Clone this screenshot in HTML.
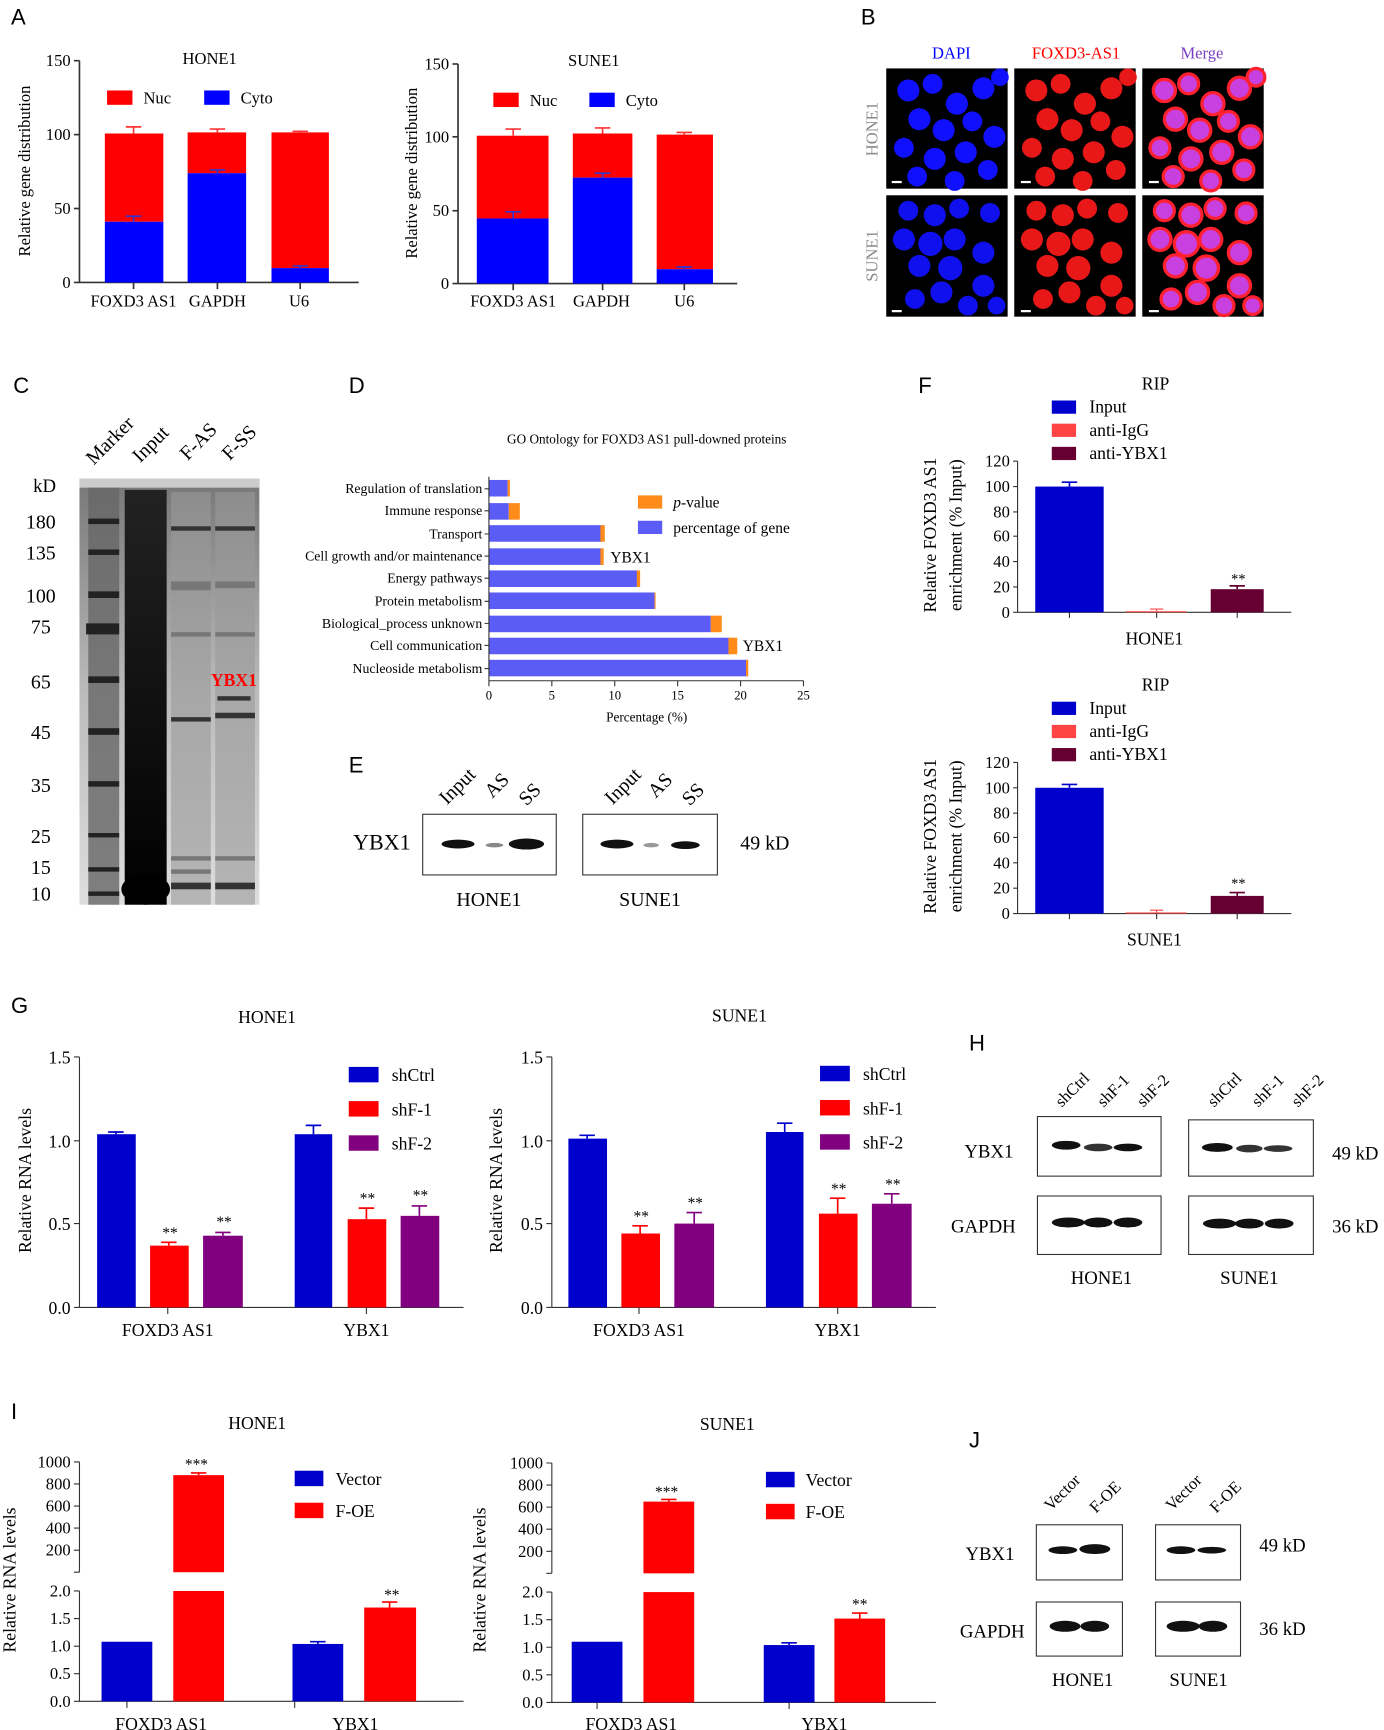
<!DOCTYPE html>
<html><head><meta charset="utf-8"><style>html,body{margin:0;padding:0;background:#fff}svg{display:block}
text{font-family:"Liberation Serif",serif}</style></head><body>
<svg width="1384" height="1730" viewBox="0 0 1254 1568" preserveAspectRatio="none" xmlns="http://www.w3.org/2000/svg">
<defs>
<linearGradient id="gel" x1="0" y1="0" x2="0" y2="1"><stop offset="0" stop-color="#777"/><stop offset="0.5" stop-color="#bbb"/><stop offset="1" stop-color="#ddd"/></linearGradient>
<linearGradient id="inp" x1="0" y1="0" x2="0" y2="1"><stop offset="0" stop-color="#222"/><stop offset="1" stop-color="#000"/></linearGradient>
<g id="c1"><circle cx="20" cy="20" r="10"/><circle cx="42" cy="14" r="9"/><circle cx="64" cy="32" r="10"/><circle cx="88" cy="18" r="10"/><circle cx="103" cy="8" r="8"/><circle cx="30" cy="46" r="10"/><circle cx="52" cy="56" r="10"/><circle cx="78" cy="48" r="9"/><circle cx="98" cy="62" r="10"/><circle cx="16" cy="72" r="9"/><circle cx="44" cy="82" r="10"/><circle cx="72" cy="76" r="10"/><circle cx="92" cy="92" r="9"/><circle cx="28" cy="98" r="9"/><circle cx="62" cy="102" r="9"/></g>
<g id="c2"><circle cx="20" cy="14" r="9"/><circle cx="44" cy="18" r="10"/><circle cx="66" cy="12" r="9"/><circle cx="94" cy="16" r="9"/><circle cx="16" cy="40" r="10"/><circle cx="40" cy="44" r="11"/><circle cx="62" cy="40" r="10"/><circle cx="30" cy="64" r="10"/><circle cx="58" cy="66" r="11"/><circle cx="88" cy="52" r="10"/><circle cx="50" cy="88" r="10"/><circle cx="88" cy="82" r="10"/><circle cx="26" cy="94" r="9"/><circle cx="74" cy="100" r="9"/><circle cx="100" cy="100" r="8"/></g>
</defs>
<g font-family="Liberation Sans,sans-serif" font-size="20" fill="#000">
<text x="10" y="22" style="font-family:'Liberation Sans',sans-serif">A</text>
<text x="780" y="22" style="font-family:'Liberation Sans',sans-serif">B</text>
<text x="12" y="356" style="font-family:'Liberation Sans',sans-serif">C</text>
<text x="316" y="356" style="font-family:'Liberation Sans',sans-serif">D</text>
<text x="316" y="700" style="font-family:'Liberation Sans',sans-serif">E</text>
<text x="832" y="356" style="font-family:'Liberation Sans',sans-serif">F</text>
<text x="10" y="918" style="font-family:'Liberation Sans',sans-serif">G</text>
<text x="878" y="952" style="font-family:'Liberation Sans',sans-serif">H</text>
<text x="10" y="1286" style="font-family:'Liberation Sans',sans-serif">I</text>
<text x="878" y="1312" style="font-family:'Liberation Sans',sans-serif">J</text>
</g>

<!-- Panel A HONE1 -->
<g font-size="15" stroke-width="1.5">
<text x="190" y="58" text-anchor="middle">HONE1</text>
<line x1="72" y1="55" x2="72" y2="256" stroke="#333"/>
<line x1="72" y1="256" x2="325" y2="256" stroke="#333"/>
<g stroke="#333"><line x1="67" y1="55" x2="72" y2="55"/><line x1="67" y1="122" x2="72" y2="122"/><line x1="67" y1="189" x2="72" y2="189"/><line x1="67" y1="256" x2="72" y2="256"/>
<line x1="121" y1="256" x2="121" y2="262"/><line x1="197" y1="256" x2="197" y2="262"/><line x1="272" y1="256" x2="272" y2="262"/></g>
<g text-anchor="end"><text x="64" y="60">150</text><text x="64" y="127">100</text><text x="64" y="194">50</text><text x="64" y="261">0</text></g>
<text transform="translate(27,155) rotate(-90)" text-anchor="middle">Relative gene distribution</text>
<rect x="95" y="121" width="53" height="80" fill="#f00"/><rect x="95" y="201" width="53" height="55" fill="#00f"/>
<rect x="170" y="120" width="53" height="37" fill="#f00"/><rect x="170" y="157" width="53" height="99" fill="#00f"/>
<rect x="246" y="120" width="52" height="123" fill="#f00"/><rect x="246" y="243" width="52" height="13" fill="#00f"/>
<g stroke="#f33"><path d="M121 121V115M114 115H128M197 120V117M190 117H204M272 120V119M265 119H279"/></g>
<g stroke="#33c"><path d="M121 201V196M114 196H128M197 157V154M190 154H204M272 243V241M265 241H279"/></g>
<rect x="97" y="82" width="23" height="13" fill="#f00"/><text x="130" y="94">Nuc</text>
<rect x="185" y="82" width="23" height="13" fill="#00f"/><text x="218" y="94">Cyto</text>
<text x="121" y="278" text-anchor="middle">FOXD3 AS1</text><text x="197" y="278" text-anchor="middle">GAPDH</text><text x="271" y="278" text-anchor="middle">U6</text>
</g>
<!-- Panel A SUNE1 -->
<g font-size="15" stroke-width="1.5">
<text x="538" y="60" text-anchor="middle">SUNE1</text>
<line x1="415" y1="58" x2="415" y2="257" stroke="#333"/>
<line x1="415" y1="257" x2="668" y2="257" stroke="#333"/>
<g stroke="#333"><line x1="410" y1="58" x2="415" y2="58"/><line x1="410" y1="124" x2="415" y2="124"/><line x1="410" y1="191" x2="415" y2="191"/><line x1="410" y1="257" x2="415" y2="257"/>
<line x1="465" y1="257" x2="465" y2="263"/><line x1="546" y1="257" x2="546" y2="263"/><line x1="620" y1="257" x2="620" y2="263"/></g>
<g text-anchor="end"><text x="407" y="63">150</text><text x="407" y="129">100</text><text x="407" y="196">50</text><text x="407" y="262">0</text></g>
<text transform="translate(378,157) rotate(-90)" text-anchor="middle">Relative gene distribution</text>
<rect x="432" y="123" width="65" height="75" fill="#f00"/><rect x="432" y="198" width="65" height="59" fill="#00f"/>
<rect x="519" y="121" width="54" height="40" fill="#f00"/><rect x="519" y="161" width="54" height="96" fill="#00f"/>
<rect x="595" y="122" width="51" height="122" fill="#f00"/><rect x="595" y="244" width="51" height="13" fill="#00f"/>
<g stroke="#f33"><path d="M465 123V117M458 117H472M546 121V116M539 116H553M620 122V120M613 120H627"/></g>
<g stroke="#33c"><path d="M465 198V192M458 192H472M546 161V157M539 157H553M620 244V242M613 242H627"/></g>
<rect x="447" y="84" width="23" height="13" fill="#f00"/><text x="480" y="96">Nuc</text>
<rect x="534" y="84" width="23" height="13" fill="#00f"/><text x="567" y="96">Cyto</text>
<text x="465" y="278" text-anchor="middle">FOXD3 AS1</text><text x="545" y="278" text-anchor="middle">GAPDH</text><text x="620" y="278" text-anchor="middle">U6</text>
</g>

<!-- Panel B -->
<g font-size="15">
<text x="862" y="53" text-anchor="middle" fill="#00f">DAPI</text>
<text x="975" y="53" text-anchor="middle" fill="#f00">FOXD3-AS1</text>
<text x="1089" y="53" text-anchor="middle" fill="#7a3fc0">Merge</text>
<text transform="translate(795,117) rotate(-90)" text-anchor="middle" fill="#888">HONE1</text>
<text transform="translate(795,232) rotate(-90)" text-anchor="middle" fill="#888">SUNE1</text>
<rect x="803" y="62" width="110" height="109" fill="#000"/><rect x="919" y="62" width="110" height="109" fill="#000"/><rect x="1035" y="62" width="110" height="109" fill="#000"/>
<rect x="803" y="177" width="110" height="110" fill="#000"/><rect x="919" y="177" width="110" height="110" fill="#000"/><rect x="1035" y="177" width="110" height="110" fill="#000"/>
<use href="#c1" x="803" y="62" fill="#1010ff"/>
<use href="#c1" x="919" y="62" fill="#e81818"/>
<use href="#c1" x="1035" y="62" fill="#c840e0" stroke="#ff2030" stroke-width="3"/>
<use href="#c2" x="803" y="177" fill="#1010ee"/>
<use href="#c2" x="919" y="177" fill="#e81818"/>
<use href="#c2" x="1035" y="177" fill="#c840e0" stroke="#ff2030" stroke-width="3"/>
<g fill="#fff"><rect x="808" y="164" width="9" height="2"/><rect x="925" y="164" width="9" height="2"/><rect x="1041" y="164" width="9" height="2"/><rect x="808" y="281" width="9" height="2"/><rect x="925" y="281" width="9" height="2"/><rect x="1041" y="281" width="9" height="2"/></g>
</g>

<!-- Panel C -->
<g font-size="18">
<text transform="translate(85,422) rotate(-45)">Marker</text>
<text transform="translate(127,420) rotate(-45)">Input</text>
<text transform="translate(170,418) rotate(-45)">F-AS</text>
<text transform="translate(208,418) rotate(-45)">F-SS</text>
<text x="30" y="446" font-size="17">kD</text>
<g text-anchor="middle"><text x="37" y="479">180</text><text x="37" y="507">135</text><text x="37" y="546">100</text><text x="37" y="574">75</text><text x="37" y="624">65</text><text x="37" y="670">45</text><text x="37" y="718">35</text><text x="37" y="764">25</text><text x="37" y="792">15</text><text x="37" y="816">10</text></g>
<rect x="72" y="434" width="163" height="386" fill="url(#gel)"/>
<rect x="72" y="434" width="163" height="8" fill="#ccc"/>
<rect x="80" y="442" width="28" height="378" fill="#666" opacity="0.8"/>
<g fill="#222"><rect x="80" y="470" width="28" height="5"/><rect x="80" y="498" width="28" height="5"/><rect x="80" y="536" width="28" height="6"/><rect x="78" y="565" width="30" height="10"/><rect x="80" y="613" width="28" height="6"/><rect x="80" y="660" width="28" height="6"/><rect x="80" y="708" width="28" height="5"/><rect x="80" y="755" width="28" height="4"/><rect x="80" y="786" width="28" height="4"/><rect x="80" y="808" width="28" height="4"/></g>
<rect x="113" y="444" width="38" height="376" fill="url(#inp)"/><ellipse cx="132" cy="806" rx="22" ry="14" fill="#000"/>
<rect x="155" y="446" width="36" height="374" fill="#999" opacity="0.6"/>
<rect x="195" y="446" width="36" height="374" fill="#999" opacity="0.6"/>
<g fill="#333"><rect x="155" y="477" width="36" height="4"/><rect x="195" y="477" width="36" height="4"/><rect x="155" y="650" width="36" height="4"/><rect x="195" y="646" width="36" height="5"/><rect x="197" y="631" width="30" height="4"/><rect x="155" y="800" width="36" height="6"/><rect x="195" y="800" width="36" height="6"/></g>
<g fill="#777"><rect x="155" y="527" width="36" height="8"/><rect x="195" y="527" width="36" height="6"/><rect x="155" y="573" width="36" height="4"/><rect x="195" y="573" width="36" height="4"/><rect x="155" y="776" width="36" height="4"/><rect x="195" y="776" width="36" height="4"/><rect x="155" y="788" width="36" height="4"/></g>
<text x="212" y="622" text-anchor="middle" fill="#f00" font-weight="bold" font-size="16">YBX1</text>
</g>

<!-- Panel D -->
<g font-size="12.5">
<text x="586" y="402" text-anchor="middle" font-size="12">GO Ontology for FOXD3 AS1 pull-downed proteins</text>
<g fill="#5b5bf5"><rect x="443" y="435" width="17" height="15"/><rect x="443" y="456" width="18" height="15"/><rect x="443" y="476" width="103" height="15"/><rect x="443" y="497" width="103" height="15"/><rect x="443" y="517" width="135" height="15"/><rect x="443" y="537" width="150" height="15"/><rect x="443" y="558" width="201" height="15"/><rect x="443" y="578" width="219" height="15"/><rect x="443" y="598" width="234" height="15"/></g>
<g fill="#ff8c1a"><rect x="460" y="435" width="2" height="15"/><rect x="461" y="456" width="10" height="15"/><rect x="544" y="476" width="4" height="15"/><rect x="544" y="497" width="3" height="15"/><rect x="577" y="517" width="3" height="15"/><rect x="593" y="537" width="1" height="15"/><rect x="644" y="558" width="10" height="15"/><rect x="660" y="578" width="8" height="15"/><rect x="676" y="598" width="2" height="15"/></g>
<line x1="443" y1="432" x2="443" y2="617" stroke="#333"/>
<line x1="443" y1="617" x2="728" y2="617" stroke="#333"/>
<g stroke="#333"><path d="M443 617v5M500 617v5M557 617v5M614 617v5M671 617v5M728 617v5"/><path d="M439 443h4M439 463h4M439 484h4M439 504h4M439 524h4M439 545h4M439 565h4M439 585h4M439 606h4"/></g>
<g text-anchor="middle" font-size="11.5"><text x="443" y="634">0</text><text x="500" y="634">5</text><text x="557" y="634">10</text><text x="614" y="634">15</text><text x="671" y="634">20</text><text x="728" y="634">25</text></g>
<text x="586" y="654" text-anchor="middle" font-size="12">Percentage (%)</text>
<g text-anchor="end"><text x="437" y="447">Regulation of translation</text><text x="437" y="467">Immune response</text><text x="437" y="488">Transport</text><text x="437" y="508">Cell growth and/or maintenance</text><text x="437" y="528">Energy pathways</text><text x="437" y="549">Protein metabolism</text><text x="437" y="569">Biological_process unknown</text><text x="437" y="589">Cell communication</text><text x="437" y="610">Nucleoside metabolism</text></g>
<text x="553" y="510" font-size="14">YBX1</text><text x="673" y="590" font-size="14">YBX1</text>
<rect x="578" y="449" width="22" height="12" fill="#ff8c1a"/><text x="610" y="460" font-size="14"><tspan font-style="italic">p</tspan>-value</text>
<rect x="578" y="472" width="22" height="12" fill="#5b5bf5"/><text x="610" y="483" font-size="14">percentage of gene</text>
</g>

<!-- Panel E -->
<g font-size="18">
<text transform="translate(405,730) rotate(-45)">Input</text><text transform="translate(446,724) rotate(-45)">AS</text><text transform="translate(477,731) rotate(-45)">SS</text>
<text transform="translate(555,730) rotate(-45)">Input</text><text transform="translate(594,724) rotate(-45)">AS</text><text transform="translate(625,731) rotate(-45)">SS</text>
<rect x="383" y="738" width="121" height="55" fill="#fff" stroke="#333"/><rect x="528" y="738" width="122" height="55" fill="#fff" stroke="#333"/>
<g fill="#111"><ellipse cx="415" cy="765" rx="15" ry="4"/><ellipse cx="448" cy="766" rx="8" ry="2" fill="#888"/><ellipse cx="477" cy="765" rx="16" ry="5"/><ellipse cx="559" cy="765" rx="15" ry="4"/><ellipse cx="590" cy="766" rx="7" ry="2" fill="#999"/><ellipse cx="621" cy="766" rx="13" ry="3.5"/></g>
<text x="346" y="770" text-anchor="middle" font-size="20">YBX1</text>
<text x="693" y="770" text-anchor="middle">49 kD</text>
<text x="443" y="821" text-anchor="middle">HONE1</text><text x="589" y="821" text-anchor="middle">SUNE1</text>
</g>

<!-- Panel F -->
<g font-size="16">
<text x="1047" y="353" text-anchor="middle">RIP</text>
<rect x="953" y="363" width="22" height="12" fill="#0000cc"/><text x="987" y="374">Input</text>
<rect x="953" y="384" width="22" height="12" fill="#ff4444"/><text x="987" y="395">anti-IgG</text>
<rect x="953" y="405" width="22" height="12" fill="#660033"/><text x="987" y="416">anti-YBX1</text>
<line x1="922" y1="418" x2="922" y2="555" stroke="#333"/><line x1="922" y1="555" x2="1170" y2="555" stroke="#333"/>
<g stroke="#333"><path d="M918 418h4M918 441h4M918 464h4M918 486h4M918 509h4M918 532h4M918 555h4M969 555v5M1048 555v5M1121 555v5"/></g>
<g text-anchor="end" font-size="15"><text x="915" y="423">120</text><text x="915" y="446">100</text><text x="915" y="469">80</text><text x="915" y="491">60</text><text x="915" y="514">40</text><text x="915" y="537">20</text><text x="915" y="560">0</text></g>
<rect x="938" y="441" width="62" height="114" fill="#0000cc"/><path d="M969 441v-4M962 437h14" stroke="#0000cc" stroke-width="1.5"/>
<rect x="1020" y="554" width="55" height="1" fill="#ff4444"/><path d="M1048 554v-2M1042 552h12" stroke="#ff4444"/>
<rect x="1097" y="534" width="48" height="21" fill="#660033"/><path d="M1121 534v-3M1114 531h14" stroke="#660033" stroke-width="1.5"/>
<text x="1122" y="529" text-anchor="middle" font-size="13">**</text>
<text x="1046" y="584" text-anchor="middle">HONE1</text>
<text transform="translate(848,485) rotate(-90)" text-anchor="middle">Relative FOXD3 AS1</text>
<text transform="translate(871,485) rotate(-90)" text-anchor="middle">enrichment (% Input)</text>

<text x="1047" y="626" text-anchor="middle">RIP</text>
<rect x="953" y="636" width="22" height="12" fill="#0000cc"/><text x="987" y="647">Input</text>
<rect x="953" y="657" width="22" height="12" fill="#ff4444"/><text x="987" y="668">anti-IgG</text>
<rect x="953" y="678" width="22" height="12" fill="#660033"/><text x="987" y="689">anti-YBX1</text>
<line x1="922" y1="691" x2="922" y2="828" stroke="#333"/><line x1="922" y1="828" x2="1170" y2="828" stroke="#333"/>
<g stroke="#333"><path d="M918 691h4M918 714h4M918 737h4M918 759h4M918 782h4M918 805h4M918 828h4M969 828v5M1048 828v5M1121 828v5"/></g>
<g text-anchor="end" font-size="15"><text x="915" y="696">120</text><text x="915" y="719">100</text><text x="915" y="742">80</text><text x="915" y="764">60</text><text x="915" y="787">40</text><text x="915" y="810">20</text><text x="915" y="833">0</text></g>
<rect x="938" y="714" width="62" height="114" fill="#0000cc"/><path d="M969 714v-3M962 711h14" stroke="#0000cc" stroke-width="1.5"/>
<rect x="1020" y="827" width="55" height="1" fill="#ff4444"/><path d="M1048 827v-2M1042 825h12" stroke="#ff4444"/>
<rect x="1097" y="812" width="48" height="16" fill="#660033"/><path d="M1121 812v-3M1114 809h14" stroke="#660033" stroke-width="1.5"/>
<text x="1122" y="805" text-anchor="middle" font-size="13">**</text>
<text x="1046" y="857" text-anchor="middle">SUNE1</text>
<text transform="translate(848,758) rotate(-90)" text-anchor="middle">Relative FOXD3 AS1</text>
<text transform="translate(871,758) rotate(-90)" text-anchor="middle">enrichment (% Input)</text>
</g>

<!-- Panel G -->
<g font-size="16">
<text x="242" y="927" text-anchor="middle">HONE1</text>
<line x1="72" y1="958" x2="72" y2="1185" stroke="#333"/><line x1="72" y1="1185" x2="420" y2="1185" stroke="#333"/>
<g stroke="#333"><path d="M67 958h5M67 1034h5M67 1109h5M67 1185h5M152 1185v6M332 1185v6"/></g>
<g text-anchor="end"><text x="64" y="964">1.5</text><text x="64" y="1040">1.0</text><text x="64" y="1115">0.5</text><text x="64" y="1191">0.0</text></g>
<text transform="translate(28,1070) rotate(-90)" text-anchor="middle">Relative RNA levels</text>
<rect x="88" y="1028" width="35" height="157" fill="#0000cc"/><path d="M105 1028v-2M98 1026h14" stroke="#0000cc" stroke-width="1.5"/>
<rect x="136" y="1129" width="35" height="56" fill="#f00"/><path d="M153 1129v-3M146 1126h14" stroke="#f00" stroke-width="1.5"/>
<rect x="184" y="1120" width="36" height="65" fill="#800080"/><path d="M202 1120v-3M195 1117h14" stroke="#800080" stroke-width="1.5"/>
<rect x="267" y="1028" width="34" height="157" fill="#0000cc"/><path d="M284 1028v-8M277 1020h14" stroke="#0000cc" stroke-width="1.5"/>
<rect x="315" y="1105" width="35" height="80" fill="#f00"/><path d="M332 1105v-10M325 1095h14" stroke="#f00" stroke-width="1.5"/>
<rect x="363" y="1102" width="35" height="83" fill="#800080"/><path d="M380 1102v-9M373 1093h14" stroke="#800080" stroke-width="1.5"/>
<g text-anchor="middle" font-size="14"><text x="154" y="1122">**</text><text x="203" y="1112">**</text><text x="333" y="1091">**</text><text x="381" y="1088">**</text></g>
<rect x="316" y="967" width="27" height="14" fill="#0000cc"/><text x="355" y="980">shCtrl</text>
<rect x="316" y="998" width="27" height="14" fill="#f00"/><text x="355" y="1011">shF-1</text>
<rect x="316" y="1029" width="27" height="14" fill="#800080"/><text x="355" y="1042">shF-2</text>
<text x="152" y="1211" text-anchor="middle">FOXD3 AS1</text><text x="332" y="1211" text-anchor="middle">YBX1</text>

<text x="670" y="926" text-anchor="middle">SUNE1</text>
<line x1="500" y1="958" x2="500" y2="1185" stroke="#333"/><line x1="500" y1="1185" x2="848" y2="1185" stroke="#333"/>
<g stroke="#333"><path d="M495 958h5M495 1034h5M495 1109h5M495 1185h5M579 1185v6M759 1185v6"/></g>
<g text-anchor="end"><text x="492" y="964">1.5</text><text x="492" y="1040">1.0</text><text x="492" y="1115">0.5</text><text x="492" y="1191">0.0</text></g>
<text transform="translate(455,1070) rotate(-90)" text-anchor="middle">Relative RNA levels</text>
<rect x="515" y="1032" width="35" height="153" fill="#0000cc"/><path d="M532 1032v-3M525 1029h14" stroke="#0000cc" stroke-width="1.5"/>
<rect x="563" y="1118" width="35" height="67" fill="#f00"/><path d="M580 1118v-7M573 1111h14" stroke="#f00" stroke-width="1.5"/>
<rect x="611" y="1109" width="36" height="76" fill="#800080"/><path d="M629 1109v-10M622 1099h14" stroke="#800080" stroke-width="1.5"/>
<rect x="694" y="1026" width="34" height="159" fill="#0000cc"/><path d="M711 1026v-8M704 1018h14" stroke="#0000cc" stroke-width="1.5"/>
<rect x="742" y="1100" width="35" height="85" fill="#f00"/><path d="M759 1100v-14M752 1086h14" stroke="#f00" stroke-width="1.5"/>
<rect x="790" y="1091" width="36" height="94" fill="#800080"/><path d="M808 1091v-9M801 1082h14" stroke="#800080" stroke-width="1.5"/>
<g text-anchor="middle" font-size="14"><text x="581" y="1107">**</text><text x="630" y="1095">**</text><text x="760" y="1082">**</text><text x="809" y="1078">**</text></g>
<rect x="743" y="966" width="27" height="14" fill="#0000cc"/><text x="782" y="979">shCtrl</text>
<rect x="743" y="997" width="27" height="14" fill="#f00"/><text x="782" y="1010">shF-1</text>
<rect x="743" y="1028" width="27" height="14" fill="#800080"/><text x="782" y="1041">shF-2</text>
<text x="579" y="1211" text-anchor="middle">FOXD3 AS1</text><text x="759" y="1211" text-anchor="middle">YBX1</text>
</g>

<!-- Panel H -->
<g font-size="17">
<text transform="translate(962,1004) rotate(-45)" font-size="15">shCtrl</text><text transform="translate(1000,1004) rotate(-45)" font-size="15">shF-1</text><text transform="translate(1036,1004) rotate(-45)" font-size="15">shF-2</text>
<text transform="translate(1100,1004) rotate(-45)" font-size="15">shCtrl</text><text transform="translate(1140,1004) rotate(-45)" font-size="15">shF-1</text><text transform="translate(1176,1004) rotate(-45)" font-size="15">shF-2</text>
<g fill="#fff" stroke="#333"><rect x="940" y="1012" width="112" height="54"/><rect x="940" y="1084" width="112" height="53"/><rect x="1077" y="1015" width="113" height="51"/><rect x="1077" y="1084" width="113" height="53"/></g>
<g fill="#111"><ellipse cx="966" cy="1038" rx="13" ry="4"/><ellipse cx="995" cy="1040" rx="13" ry="3.5" fill="#333"/><ellipse cx="1022" cy="1040" rx="13" ry="3.5"/><ellipse cx="1103" cy="1040" rx="14" ry="4"/><ellipse cx="1132" cy="1041" rx="12" ry="3.5" fill="#333"/><ellipse cx="1158" cy="1041" rx="13" ry="3" fill="#333"/>
<ellipse cx="968" cy="1108" rx="15" ry="4.5"/><ellipse cx="995" cy="1108" rx="13" ry="4.5"/><ellipse cx="1022" cy="1108" rx="13" ry="4.5"/><ellipse cx="1105" cy="1109" rx="15" ry="4.5"/><ellipse cx="1132" cy="1109" rx="13" ry="4.5"/><ellipse cx="1159" cy="1109" rx="13" ry="4.5"/></g>
<text x="896" y="1049" text-anchor="middle">YBX1</text><text x="891" y="1117" text-anchor="middle">GAPDH</text>
<text x="1228" y="1051" text-anchor="middle">49 kD</text><text x="1228" y="1117" text-anchor="middle">36 kD</text>
<text x="998" y="1164" text-anchor="middle">HONE1</text><text x="1132" y="1164" text-anchor="middle">SUNE1</text>
</g>

<!-- Panel I -->
<g font-size="16">
<text x="233" y="1295" text-anchor="middle">HONE1</text>
<path d="M72 1325V1425M72 1442V1542H420" stroke="#333" fill="none"/>
<path d="M67 1325h5M67 1345h5M67 1365h5M67 1385h5M67 1405h5M67 1425h5M67 1442h5M67 1467h5M67 1492h5M67 1517h5M67 1542h5M115 1542v6M267 1542v6" stroke="#333"/>
<g text-anchor="end" font-size="15"><text x="64" y="1330">1000</text><text x="64" y="1350">800</text><text x="64" y="1370">600</text><text x="64" y="1390">400</text><text x="64" y="1410">200</text><text x="64" y="1447">2.0</text><text x="64" y="1472">1.5</text><text x="64" y="1497">1.0</text><text x="64" y="1522">0.5</text><text x="64" y="1547">0.0</text></g>
<text transform="translate(14,1432) rotate(-90)" text-anchor="middle">Relative RNA levels</text>
<rect x="92" y="1488" width="46" height="54" fill="#0000cc"/>
<rect x="157" y="1442" width="46" height="100" fill="#f00"/><rect x="157" y="1337" width="46" height="88" fill="#f00"/><path d="M180 1337v-2M173 1335h14" stroke="#f00" stroke-width="1.5"/>
<rect x="265" y="1490" width="46" height="52" fill="#0000cc"/><path d="M288 1490v-2M281 1488h14" stroke="#0000cc" stroke-width="1.5"/>
<rect x="330" y="1457" width="47" height="85" fill="#f00"/><path d="M353 1457v-5M346 1452h14" stroke="#f00" stroke-width="1.5"/>
<text x="178" y="1332" text-anchor="middle" font-size="14">***</text><text x="355" y="1450" text-anchor="middle" font-size="14">**</text>
<rect x="267" y="1333" width="26" height="14" fill="#0000cc"/><text x="304" y="1346">Vector</text>
<rect x="267" y="1362" width="26" height="14" fill="#f00"/><text x="304" y="1375">F-OE</text>
<text x="146" y="1568" text-anchor="middle">FOXD3 AS1</text><text x="322" y="1568" text-anchor="middle">YBX1</text>

<text x="659" y="1296" text-anchor="middle">SUNE1</text>
<path d="M500 1326V1426M500 1443V1543H848" stroke="#333" fill="none"/>
<path d="M495 1326h5M495 1346h5M495 1366h5M495 1386h5M495 1406h5M495 1426h5M495 1443h5M495 1468h5M495 1493h5M495 1518h5M495 1543h5M541 1543v6M715 1543v6" stroke="#333"/>
<g text-anchor="end" font-size="15"><text x="492" y="1331">1000</text><text x="492" y="1351">800</text><text x="492" y="1371">600</text><text x="492" y="1391">400</text><text x="492" y="1411">200</text><text x="492" y="1448">2.0</text><text x="492" y="1473">1.5</text><text x="492" y="1498">1.0</text><text x="492" y="1523">0.5</text><text x="492" y="1548">0.0</text></g>
<text transform="translate(440,1432) rotate(-90)" text-anchor="middle">Relative RNA levels</text>
<rect x="518" y="1488" width="46" height="55" fill="#0000cc"/>
<rect x="583" y="1443" width="46" height="100" fill="#f00"/><rect x="583" y="1361" width="46" height="65" fill="#f00"/><path d="M606 1361v-2M599 1359h14" stroke="#f00" stroke-width="1.5"/>
<rect x="692" y="1491" width="46" height="52" fill="#0000cc"/><path d="M715 1491v-2M708 1489h14" stroke="#0000cc" stroke-width="1.5"/>
<rect x="756" y="1467" width="46" height="76" fill="#f00"/><path d="M779 1467v-5M772 1462h14" stroke="#f00" stroke-width="1.5"/>
<text x="604" y="1357" text-anchor="middle" font-size="14">***</text><text x="779" y="1459" text-anchor="middle" font-size="14">**</text>
<rect x="694" y="1334" width="26" height="14" fill="#0000cc"/><text x="730" y="1347">Vector</text>
<rect x="694" y="1363" width="26" height="14" fill="#f00"/><text x="730" y="1376">F-OE</text>
<text x="572" y="1568" text-anchor="middle">FOXD3 AS1</text><text x="747" y="1568" text-anchor="middle">YBX1</text>
</g>

<!-- Panel J -->
<g font-size="17">
<text transform="translate(952,1370) rotate(-45)" font-size="15">Vector</text><text transform="translate(993,1372) rotate(-45)" font-size="15">F-OE</text>
<text transform="translate(1062,1370) rotate(-45)" font-size="15">Vector</text><text transform="translate(1102,1372) rotate(-45)" font-size="15">F-OE</text>
<g fill="#fff" stroke="#333"><rect x="939" y="1382" width="78" height="50"/><rect x="939" y="1452" width="78" height="49"/><rect x="1047" y="1382" width="77" height="50"/><rect x="1047" y="1452" width="77" height="49"/></g>
<g fill="#111"><ellipse cx="963" cy="1405" rx="13" ry="3.5"/><ellipse cx="992" cy="1404" rx="14" ry="4.5"/><ellipse cx="1070" cy="1405" rx="13" ry="3.5"/><ellipse cx="1098" cy="1405" rx="13" ry="3"/>
<ellipse cx="965" cy="1474" rx="14" ry="5"/><ellipse cx="992" cy="1474" rx="13" ry="5"/><ellipse cx="1072" cy="1474" rx="15" ry="5"/><ellipse cx="1099" cy="1474" rx="13" ry="5"/></g>
<text x="897" y="1414" text-anchor="middle">YBX1</text><text x="899" y="1484" text-anchor="middle">GAPDH</text>
<text x="1162" y="1406" text-anchor="middle">49 kD</text><text x="1162" y="1482" text-anchor="middle">36 kD</text>
<text x="981" y="1528" text-anchor="middle">HONE1</text><text x="1086" y="1528" text-anchor="middle">SUNE1</text>
</g>
</svg>
</body></html>
